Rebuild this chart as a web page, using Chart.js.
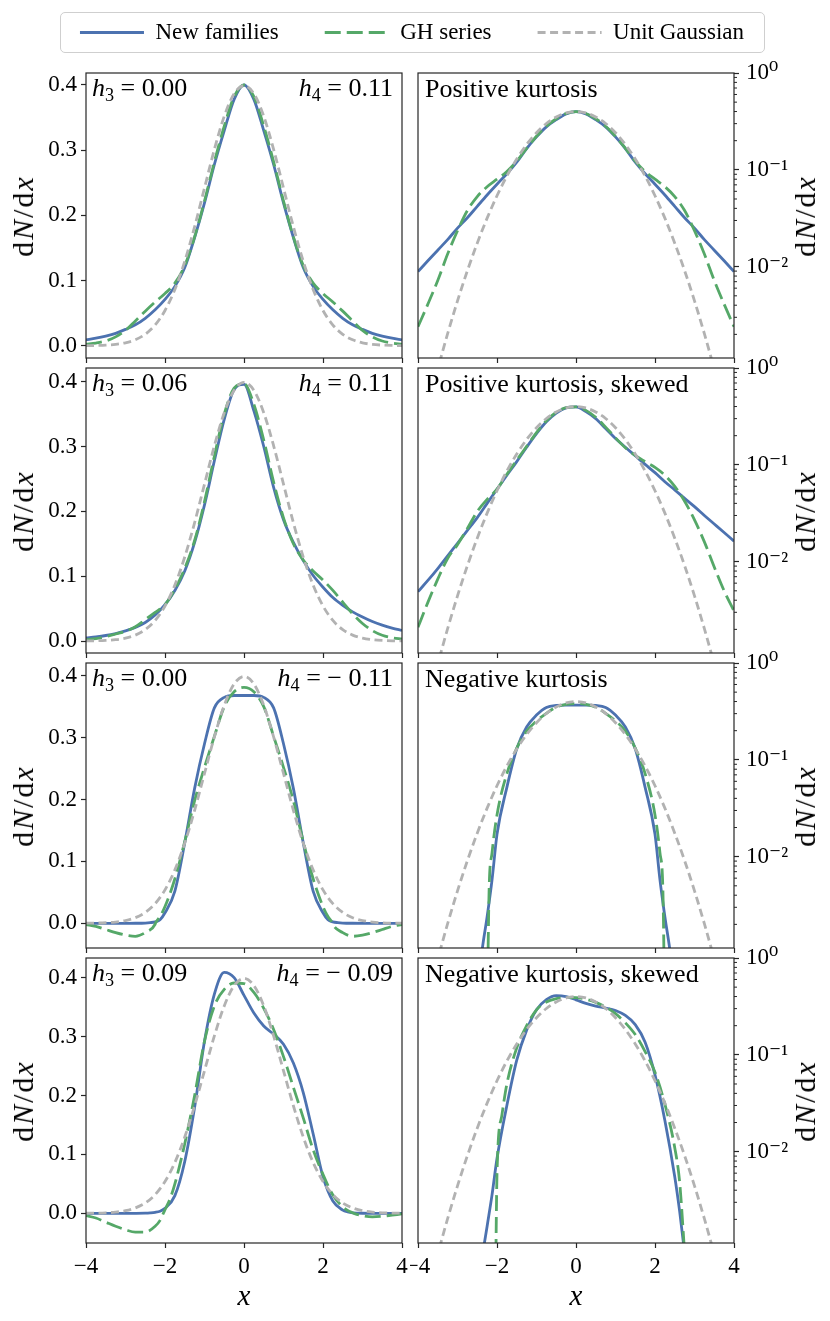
<!DOCTYPE html>
<html>
<head>
<meta charset="utf-8">
<title>New families vs GH series</title>
<script src="https://cdn.jsdelivr.net/npm/chart.js@4.4.1/dist/chart.umd.min.js"></script>
<style>
  html, body { margin: 0; padding: 0; background: #fff; }
  body { position: relative; width: 830px; height: 1321px; overflow: hidden;
         font-family: 'Liberation Serif', 'DejaVu Serif', serif; color: #000; }
  canvas { position: absolute; }
  #legendFrame { position: absolute; left: 60px; top: 12px; width: 705px; height: 41px;
                 border: 1.5px solid #cfcfcf; border-radius: 5px; box-sizing: border-box; }
  .txt { position: absolute; white-space: nowrap; line-height: 1; }
  .ann { font-size: 26px; transform: translateY(-50%); }
  .ylab { font-size: 30px; letter-spacing: 2px; transform: translate(-50%, -50%) rotate(-90deg); }
  .xlab { font-size: 29px; transform: translate(-50%, -50%); }
  sub { font-size: 0.7em; vertical-align: baseline; position: relative; top: 0.3em; }
</style>
</head>
<body>
<div id="legendFrame"></div>
<script>
const SERIF = "'Liberation Serif', 'DejaVu Serif', serif";
const BLUE = '#4C72B0', GREEN = '#55A868', GRAY = '#B2B2B2', AXIS = '#262626';

// ticks and labels
const xTicks = [-4, -2, 0, 2, 4];
const linTicks = [0, 0.1, 0.2, 0.3, 0.4];
const logTicks = [1, 0.1, 0.01];
const logTickLabels = ['10\u2070', '10\u207B\u00B9', '10\u207B\u00B2'];
const seriesNames = ['New families', 'GH series', 'Unit Gaussian'];
const panelH3 = ['0.00', '0.06', '0.00', '0.09'];
const panelH4 = ['0.11', '0.11', '\u2212 0.11', '\u2212 0.09'];
const panelTitles = ['Positive kurtosis', 'Positive kurtosis, skewed', 'Negative kurtosis', 'Negative kurtosis, skewed'];

// common x grid
const xGrid = [-4, -3.75, -3.5, -3.25, -3, -2.75, -2.5, -2.25, -2, -1.75, -1.5, -1.25, -1, -0.75, -0.5, -0.25,
  0, 0.25, 0.5, 0.75, 1, 1.25, 1.5, 1.75, 2, 2.25, 2.5, 2.75, 3, 3.25, 3.5, 3.75, 4];

// unit gaussian, same in every panel
const gaussY = [0.000134, 0.000353, 0.000873, 0.00203, 0.00443, 0.00909, 0.0175, 0.0317, 0.0540, 0.0863, 0.1295,
  0.1826, 0.2420, 0.3011, 0.3521, 0.3867, 0.3989, 0.3867, 0.3521, 0.3011, 0.2420, 0.1826, 0.1295, 0.0863, 0.0540,
  0.0317, 0.0175, 0.00909, 0.00443, 0.00203, 0.000873, 0.000353, 0.000134];

// row 1: positive kurtosis
const newY1 = [0.0089, 0.0115, 0.0148, 0.019, 0.025, 0.032, 0.042, 0.055, 0.071, 0.091, 0.120, 0.166, 0.219, 0.278,
  0.330, 0.378, 0.400, 0.378, 0.330, 0.278, 0.219, 0.166, 0.120, 0.091, 0.071, 0.055, 0.042, 0.032, 0.025, 0.019,
  0.0148, 0.0115, 0.0089];
const ghY1 = [0.0024, 0.0041, 0.0072, 0.0135, 0.0235, 0.038, 0.053, 0.067, 0.080, 0.096, 0.123, 0.167, 0.222, 0.282,
  0.337, 0.382, 0.400, 0.382, 0.337, 0.282, 0.222, 0.167, 0.123, 0.096, 0.080, 0.067, 0.053, 0.038, 0.0235, 0.0135,
  0.0072, 0.0041, 0.0024];

// row 2: positive kurtosis, skewed
const newY2 = [0.0049, 0.0064, 0.0085, 0.0115, 0.0155, 0.021, 0.0285, 0.040, 0.056, 0.078, 0.108, 0.152, 0.210, 0.278,
  0.342, 0.388, 0.396, 0.355, 0.300, 0.237, 0.187, 0.152, 0.124, 0.101, 0.083, 0.067, 0.055, 0.045, 0.037, 0.030,
  0.0245, 0.020, 0.0163];
const ghY2 = [0.0021, 0.0038, 0.0066, 0.0108, 0.0150, 0.022, 0.033, 0.044, 0.056, 0.080, 0.112, 0.155, 0.215, 0.285,
  0.350, 0.390, 0.397, 0.365, 0.310, 0.245, 0.190, 0.150, 0.125, 0.108, 0.094, 0.078, 0.060, 0.042, 0.027, 0.016,
  0.0088, 0.0050, 0.0031];

// row 3: negative kurtosis
const x3New = [-4, -3.75, -3.5, -3.25, -3, -2.75, -2.5, -2.375, -2.25, -2.125, -2, -1.75, -1.5, -1.25, -1, -0.75, -0.5,
  -0.25, 0, 0.25, 0.5, 0.75, 1, 1.25, 1.5, 1.75, 2, 2.125, 2.25, 2.375, 2.5, 2.75, 3, 3.25, 3.5, 3.75, 4];
const newY3 = [1e-7, 3e-7, 1e-6, 3e-6, 1e-5, 6e-5, 0.0004, 0.0011, 0.0024, 0.0058, 0.017, 0.052, 0.130, 0.218, 0.290,
  0.348, 0.365, 0.368, 0.368, 0.368, 0.365, 0.348, 0.290, 0.218, 0.130, 0.052, 0.017, 0.0058, 0.0024, 0.0011, 0.0004,
  6e-5, 1e-5, 3e-6, 1e-6, 3e-7, 1e-7];
const x3GH = [-4, -3.75, -3.5, -3.25, -3, -2.75, -2.5, -2.25, -2.24, -2.2, -2.125, -2, -1.75, -1.5, -1.25, -1, -0.75,
  -0.5, -0.25, 0, 0.25, 0.5, 0.75, 1, 1.25, 1.5, 1.75, 2, 2.125, 2.2, 2.24, 2.25, 2.5, 2.75, 3, 3.25, 3.5, 3.75, 4];
const ghY3 = [-0.002, -0.005, -0.010, -0.015, -0.019, -0.021, -0.015, -0.0015, 0.0004, 0.0045, 0.011, 0.027, 0.072,
  0.132, 0.198, 0.252, 0.302, 0.350, 0.374, 0.381, 0.374, 0.350, 0.302, 0.252, 0.198, 0.132, 0.072, 0.027, 0.011,
  0.0045, 0.0004, -0.0015, -0.015, -0.021, -0.019, -0.015, -0.010, -0.005, -0.002];

// row 4: negative kurtosis, skewed
const x4New = [-4, -3.75, -3.5, -3.25, -3, -2.75, -2.5, -2.375, -2.25, -2.125, -2, -1.75, -1.5, -1.25, -1, -0.75, -0.5,
  -0.25, 0, 0.25, 0.5, 0.75, 1, 1.25, 1.5, 1.75, 2, 2.25, 2.5, 2.625, 2.75, 3, 3.25, 3.5, 3.75, 4];
const newY4 = [1e-8, 3e-8, 2e-7, 1e-6, 6e-6, 4e-5, 0.0003, 0.0008, 0.0017, 0.0036, 0.0085, 0.030, 0.088, 0.180, 0.292,
  0.372, 0.409, 0.400, 0.370, 0.340, 0.318, 0.304, 0.287, 0.255, 0.205, 0.135, 0.062, 0.021, 0.0055, 0.0024, 0.0009,
  0.0001, 1e-5, 1e-6, 1e-7, 1e-8];
const x4GH = [-4, -3.75, -3.5, -3.25, -3, -2.75, -2.5, -2.25, -2.125, -2.04, -2, -1.875, -1.75, -1.5, -1.25, -1, -0.75,
  -0.5, -0.25, 0, 0.25, 0.5, 0.75, 1, 1.25, 1.5, 1.75, 2, 2.25, 2.5, 2.625, 2.75, 2.8, 3, 3.25, 3.5, 3.75, 4];
const ghY4 = [-0.004, -0.008, -0.015, -0.022, -0.028, -0.032, -0.032, -0.022, -0.012, 0.0003, 0.006, 0.024, 0.050,
  0.118, 0.200, 0.292, 0.352, 0.380, 0.391, 0.390, 0.375, 0.348, 0.312, 0.266, 0.214, 0.162, 0.108, 0.066, 0.031,
  0.011, 0.0048, 0.0009, -0.0006, -0.004, -0.006, -0.005, -0.003, -0.001];

const rows = [
  { newX: xGrid, newY: newY1, ghX: xGrid, ghY: ghY1, lin: [-0.0189, 0.4184] },
  { newX: xGrid, newY: newY2, ghX: xGrid, ghY: ghY2, lin: [-0.0185, 0.4211] },
  { newX: x3New, newY: newY3, ghX: x3GH, ghY: ghY3, lin: [-0.0399, 0.4205] },
  { newX: x4New, newY: newY4, ghX: x4GH, ghY: ghY4, lin: [-0.0504, 0.4334] }
];
const logRange = [0.00114, 1];

const ROW_TOP = [73, 368, 663, 958], PLOT_H = 285, PAD_TOP = 18;

function pts(xs, ys) { return xs.map((x, i) => ({ x: x, y: ys[i] })); }

function makeDatasets(r) {
  const common = { pointRadius: 0, borderWidth: 2.8, fill: false, cubicInterpolationMode: 'monotone',
                   clip: 0, borderCapStyle: 'butt' };
  return [
    Object.assign({ label: seriesNames[0], data: pts(r.newX, r.newY), borderColor: BLUE, borderDash: [], order: 2 }, common),
    Object.assign({ label: seriesNames[1], data: pts(r.ghX, r.ghY), borderColor: GREEN, borderDash: [16, 6], order: 1 }, common),
    Object.assign({ label: seriesNames[2], data: pts(xGrid, gaussY), borderColor: GRAY, borderDash: [8, 4.5], order: 0 }, common)
  ];
}

// box around each axes, like matplotlib spines
const frame = {
  id: 'frame',
  afterDatasetsDraw(chart) {
    const a = chart.chartArea, ctx = chart.ctx;
    ctx.save();
    ctx.strokeStyle = AXIS;
    ctx.lineWidth = 1.2;
    ctx.strokeRect(a.left, a.top, a.right - a.left, a.bottom - a.top);
    ctx.restore();
  }
};

// short minor ticks on the log axes
const minorTicks = {
  id: 'minorTicks',
  afterDraw(chart) {
    const s = chart.scales.y;
    if (s.type !== 'logarithmic') return;
    const ctx = chart.ctx;
    ctx.save();
    ctx.strokeStyle = AXIS;
    ctx.lineWidth = 1;
    for (let e = -3; e < 0; e++) {
      for (let m = 2; m < 10; m++) {
        const v = m * Math.pow(10, e);
        if (v < s.min || v > s.max) continue;
        const y = s.getPixelForValue(v);
        ctx.beginPath();
        ctx.moveTo(s.left, y);
        ctx.lineTo(s.left + 3, y);
        ctx.stroke();
      }
    }
    ctx.restore();
  }
};

function zeroPad(s) { s.paddingTop = 0; s.paddingBottom = 0; s.paddingLeft = 0; s.paddingRight = 0; }

function panel(i, side) {
  const isLog = side === 'right';
  const last = i === rows.length - 1;
  const xAxisH = last ? 50 : 8;
  const cv = document.createElement('canvas');
  cv.width = isLog ? 420 : 410;
  cv.height = PAD_TOP + PLOT_H + xAxisH;
  cv.style.left = (isLog ? 410 : 0) + 'px';
  cv.style.top = (ROW_TOP[i] - PAD_TOP) + 'px';
  document.body.appendChild(cv);

  const tickGrid = { display: true, drawOnChartArea: false, drawTicks: true, tickLength: 5,
                     tickColor: AXIS, tickWidth: 1.2 };
  const tickFont = { family: SERIF, size: 23 };

  const yScale = isLog ? {
    type: 'logarithmic', position: 'right', min: logRange[0], max: logRange[1],
    afterBuildTicks: s => { s.ticks = logTicks.map(v => ({ value: v })); },
    afterFit: s => { s.width = 96; zeroPad(s); },
    ticks: { color: '#000', font: tickFont, padding: 7, callback: v => logTickLabels[logTicks.indexOf(v)] },
    grid: tickGrid, border: { display: false }
  } : {
    type: 'linear', position: 'left', min: rows[i].lin[0], max: rows[i].lin[1],
    afterBuildTicks: s => { s.ticks = linTicks.map(v => ({ value: v })); },
    afterFit: s => { s.width = 86; zeroPad(s); },
    ticks: { color: '#000', font: tickFont, padding: 4, callback: v => v.toFixed(1) },
    grid: tickGrid, border: { display: false }
  };

  const xScale = {
    type: 'linear', min: -4, max: 4,
    afterBuildTicks: s => { s.ticks = xTicks.map(v => ({ value: v })); },
    afterFit: s => { s.height = xAxisH; zeroPad(s); },
    ticks: { display: last, color: '#000', font: tickFont, padding: 5, maxRotation: 0, autoSkip: false,
             callback: v => (v < 0 ? '\u2212' + (-v) : String(v)) },
    grid: tickGrid, border: { display: false }
  };

  new Chart(cv, {
    type: 'line',
    data: { datasets: makeDatasets(rows[i]) },
    options: {
      responsive: false, animation: false, events: [],
      layout: { padding: { top: PAD_TOP, bottom: 0, left: isLog ? 8 : 0, right: isLog ? 0 : 8 } },
      plugins: { legend: { display: false }, tooltip: { enabled: false } },
      scales: { x: xScale, y: yScale }
    },
    plugins: [frame, minorTicks]
  });
}

function addText(html, cls, css) {
  const d = document.createElement('div');
  d.className = 'txt ' + cls;
  d.innerHTML = html;
  Object.assign(d.style, css);
  document.body.appendChild(d);
}

for (let i = 0; i < rows.length; i++) {
  panel(i, 'left');
  panel(i, 'right');
  const mid = ROW_TOP[i] + PLOT_H / 2;
  addText('<i>h</i><sub>3</sub> = ' + panelH3[i], 'ann', { left: '92px', top: (ROW_TOP[i] + 15) + 'px' });
  addText('<i>h</i><sub>4</sub> = ' + panelH4[i], 'ann', { right: '437px', top: (ROW_TOP[i] + 15) + 'px' });
  addText(panelTitles[i], 'ann', { left: '425px', top: (ROW_TOP[i] + 16) + 'px' });
  addText('d<i>N</i>/d<i>x</i>', 'ylab', { left: '23px', top: mid + 'px' });
  addText('d<i>N</i>/d<i>x</i>', 'ylab', { left: '805px', top: mid + 'px' });
}
addText('<i>x</i>', 'xlab', { left: '244px', top: '1295px' });
addText('<i>x</i>', 'xlab', { left: '576px', top: '1295px' });

// legend: its own chart, the items take their style from the panel datasets
const legCv = document.createElement('canvas');
legCv.width = 824;
legCv.height = 150;
legCv.style.left = '0px';
legCv.style.top = '-25px';
document.body.appendChild(legCv);
new Chart(legCv, {
  type: 'line',
  data: { datasets: makeDatasets(rows[0]).map(d => Object.assign({}, d, { data: [] })) },
  options: {
    responsive: false, animation: false, events: [],
    layout: { padding: 0 },
    scales: { x: { display: false }, y: { display: false } },
    plugins: {
      tooltip: { enabled: false },
      legend: {
        display: true, position: 'top', align: 'center',
        labels: {
          usePointStyle: true, pointStyleWidth: 64, padding: 46, color: '#000',
          font: { family: SERIF, size: 23 },
          generateLabels: chart => chart.data.datasets.map((d, k) => ({
            text: d.label, strokeStyle: d.borderColor, fillStyle: d.borderColor, lineWidth: d.borderWidth,
            lineDash: d.borderDash, lineCap: 'butt', pointStyle: 'line', hidden: false, datasetIndex: k
          }))
        }
      }
    }
  }
});
</script>
</body>
</html>
